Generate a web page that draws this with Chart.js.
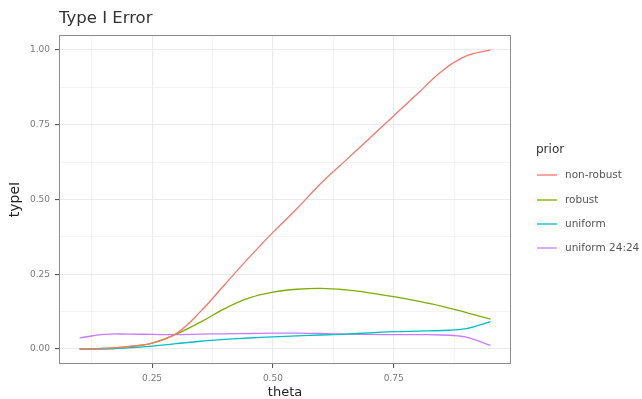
<!DOCTYPE html>
<html>
<head>
<meta charset="utf-8">
<script src="https://cdn.jsdelivr.net/npm/chart.js@4.4.1/dist/chart.umd.min.js"></script>
<style>
  html, body { margin: 0; padding: 0; background: #fff; }
  #wrap { width: 642px; height: 399px; }
</style>
</head>
<body>
<div id="wrap"><canvas id="typeChart" width="642" height="399"></canvas></div>
<script>
// ===== DATA =====
const theta = [0.10, 0.15, 0.20, 0.25, 0.30, 0.35, 0.40, 0.45, 0.50, 0.55,
               0.60, 0.65, 0.70, 0.75, 0.80, 0.85, 0.90, 0.95];
const nonRobust = [0.000, 0.002, 0.008, 0.020, 0.052, 0.125, 0.215, 0.305, 0.390, 0.470,
                   0.555, 0.630, 0.705, 0.780, 0.855, 0.930, 0.980, 1.000];
const robust = [0.000, 0.002, 0.008, 0.020, 0.050, 0.090, 0.135, 0.170, 0.190, 0.200,
                0.203, 0.198, 0.188, 0.175, 0.160, 0.143, 0.122, 0.100];
const uniform = [0.000, 0.000, 0.004, 0.010, 0.018, 0.026, 0.032, 0.037, 0.041, 0.044,
                 0.047, 0.050, 0.054, 0.058, 0.060, 0.062, 0.068, 0.092];
const uniform2424 = [0.037, 0.049, 0.050, 0.049, 0.048, 0.050, 0.051, 0.052, 0.053, 0.053,
                     0.052, 0.050, 0.049, 0.048, 0.048, 0.047, 0.040, 0.012];
const seriesNames = ['non-robust', 'robust', 'uniform', 'uniform 24:24'];
const seriesColors = ['#F8766D', '#7CAE00', '#00BFC4', '#C77CFF'];
const xTicks = [0.125, 0.25, 0.375, 0.5, 0.625, 0.75, 0.875];
const yTicks = [0, 0.125, 0.25, 0.375, 0.5, 0.625, 0.75, 0.875, 1];

const FONT = '"DejaVu Sans", sans-serif';

function isMajor(v) {
    return Math.abs(v / 0.25 - Math.round(v / 0.25)) < 1e-6;
}

function toPoints(ys) {
    return ys.map((y, i) => ({ x: theta[i], y: y }));
}

// ===== DECORATIONS (title, axis titles, border, legend) =====
const decorations = {
    id: 'decorations',
    beforeDraw(chart) {
        const c = chart.ctx;
        c.save();
        c.fillStyle = '#fff';
        c.fillRect(0, 0, chart.width, chart.height);
        c.restore();
    },
    afterDraw(chart) {
        const c = chart.ctx;
        const a = chart.chartArea;
        c.save();
        // panel border
        c.strokeStyle = '#8c8c8c';
        c.lineWidth = 1;
        c.strokeRect(a.left + 0.5, a.top + 0.5, a.right - a.left - 1, a.bottom - a.top - 1);

        // title
        c.fillStyle = '#333';
        c.font = '16.5px ' + FONT;
        c.textBaseline = 'alphabetic';
        c.textAlign = 'left';
        c.fillText('Type I Error', 59, 23);

        // axis titles
        c.font = '13px ' + FONT;
        c.fillStyle = '#222';
        c.textAlign = 'center';
        c.fillText('theta', (a.left + a.right) / 2, 396);
        c.save();
        c.translate(19, (a.top + a.bottom) / 2);
        c.rotate(-Math.PI / 2);
        c.font = '14px ' + FONT;
        c.fillText('typeI', 0, 0);
        c.restore();

        // legend
        c.textAlign = 'left';
        c.textBaseline = 'middle';
        c.fillStyle = '#333';
        c.font = '12px ' + FONT;
        c.fillText('prior', 536, 150);
        const rows = [175, 200, 224, 248];
        c.font = '10.5px ' + FONT;
        seriesNames.forEach((name, i) => {
            c.strokeStyle = seriesColors[i];
            c.lineWidth = 1.3;
            c.beginPath();
            c.moveTo(537, rows[i]);
            c.lineTo(557, rows[i]);
            c.stroke();
            c.fillStyle = '#555';
            c.fillText(name, 565, rows[i]);
        });
        c.restore();
    }
};

// ===== CHART =====
const datasets = [nonRobust, robust, uniform, uniform2424].map((ys, i) => ({
    label: seriesNames[i],
    data: toPoints(ys),
    borderColor: seriesColors[i],
    backgroundColor: seriesColors[i],
    borderWidth: 1.3,
    pointRadius: 0,
    fill: false,
    tension: 0.4
}));

new Chart(document.getElementById('typeChart').getContext('2d'), {
    type: 'line',
    data: { datasets: datasets },
    options: {
        responsive: false,
        animation: false,
        devicePixelRatio: 1,
        layout: { padding: { left: 0, top: 35, right: 131, bottom: 0 } },
        plugins: {
            legend: { display: false },
            tooltip: { enabled: false }
        },
        scales: {
            x: {
                type: 'linear',
                min: 0.0575,
                max: 0.9925,
                afterBuildTicks: s => { s.ticks = xTicks.map(v => ({ value: v })); },
                afterFit: s => { s.height = 35; },
                border: { display: false },
                grid: {
                    color: '#ebebeb',
                    lineWidth: ctx => isMajor(ctx.tick.value) ? 1.1 : 0.55,
                    tickColor: ctx => isMajor(ctx.tick.value) ? '#555' : 'rgba(0,0,0,0)',
                    tickLength: 4
                },
                ticks: {
                    autoSkip: false,
                    maxRotation: 0,
                    padding: 5,
                    color: '#7a7a7a',
                    font: { family: FONT, size: 9 },
                    callback: v => isMajor(v) ? v.toFixed(2) : ''
                }
            },
            y: {
                type: 'linear',
                min: -0.05,
                max: 1.05,
                afterBuildTicks: s => { s.ticks = yTicks.map(v => ({ value: v })); },
                afterFit: s => { s.width = 59; },
                border: { display: false },
                grid: {
                    color: '#ebebeb',
                    lineWidth: ctx => isMajor(ctx.tick.value) ? 1.1 : 0.55,
                    tickColor: ctx => isMajor(ctx.tick.value) ? '#555' : 'rgba(0,0,0,0)',
                    tickLength: 4
                },
                ticks: {
                    autoSkip: false,
                    padding: 5,
                    color: '#7a7a7a',
                    font: { family: FONT, size: 9 },
                    callback: v => isMajor(v) ? v.toFixed(2) : ''
                }
            }
        }
    },
    plugins: [decorations]
});
</script>
</body>
</html>
